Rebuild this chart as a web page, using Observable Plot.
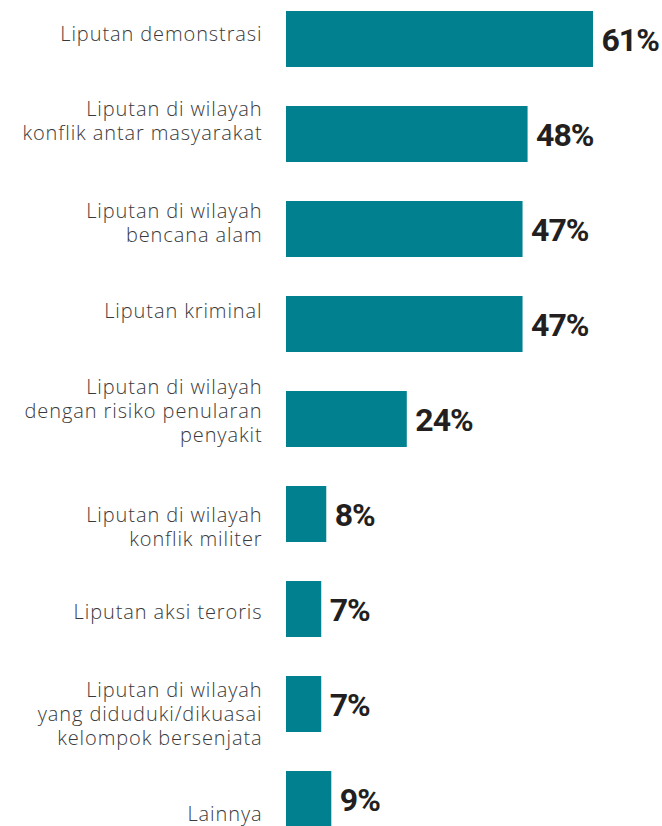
<!DOCTYPE html>
<html>
<head>
<meta charset="utf-8">
<script src="https://cdn.jsdelivr.net/npm/d3@7"></script>
<script src="https://cdn.jsdelivr.net/npm/@observablehq/plot@0.6"></script>
<style>
  html, body { margin: 0; padding: 0; background: #fff; }
  #chart svg { display: block; overflow: hidden; }
  #chart .cat-labels text { letter-spacing: 0.9px; }
  #chart .val-labels text { letter-spacing: -1px; }
</style>
</head>
<body>
<div id="chart"></div>
<script>
const categories = [
  "Liputan demonstrasi",
  "Liputan di wilayah\nkonflik antar masyarakat",
  "Liputan di wilayah\nbencana alam",
  "Liputan kriminal",
  "Liputan di wilayah\ndengan risiko penularan\npenyakit",
  "Liputan di wilayah\nkonflik militer",
  "Liputan aksi teroris",
  "Liputan di wilayah\nyang diduduki/dikuasai\nkelompok bersenjata",
  "Lainnya"
];
const values = [61, 48, 47, 47, 24, 8, 7, 7, 9];
const valueLabels = ["61%", "48%", "47%", "47%", "24%", "8%", "7%", "7%", "9%"];

// layout nudges for category labels (vertical, px)
const labelNudge = [-6, -14, -7, -14, -9, 12, 2, 9, 14];

const rows = categories.map((c, i) => ({cat: c, value: values[i], label: valueLabels[i], nudge: labelNudge[i]}));

const chart = Plot.plot({
  width: 662,
  height: 826,
  marginLeft: 0,
  marginRight: 0,
  marginTop: 0,
  marginBottom: 0,
  x: {domain: [0, 61], range: [286, 593], axis: null},
  y: {type: "band", domain: categories, range: [10, 828.4], paddingInner: 0.41, paddingOuter: 0, axis: null},
  marks: [
    Plot.barX(rows, {x: "value", y: "cat", fill: "#01808F"}),
    Plot.text(rows, {
      x: "value", y: "cat", text: "label", textAnchor: "start", dx: 8, dy: 1,
      fontSize: 32, fontWeight: 700, fill: "#231F20",
      fontFamily: "Roboto, sans-serif", className: "val-labels"
    }),
    ...rows.map(r => Plot.text([r], {
      x: 0, y: "cat", text: "cat", textAnchor: "end", dx: -24, dy: r.nudge,
      fontSize: 20, fontWeight: 300, fill: "#3a3a3a", lineHeight: 1.2,
      fontFamily: "'Open Sans', sans-serif", className: "cat-labels"
    }))
  ]
});
document.getElementById("chart").appendChild(chart);
</script>
</body>
</html>
